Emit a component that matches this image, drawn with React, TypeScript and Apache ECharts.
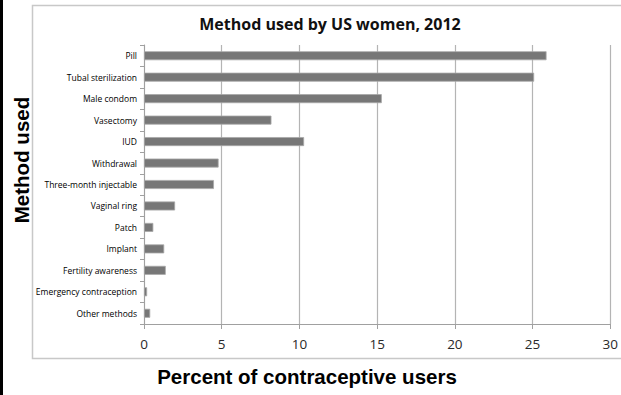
import React, { useEffect, useRef } from "react";
import * as echarts from "echarts";

const categories = [
  "Pill",
  "Tubal sterilization",
  "Male condom",
  "Vasectomy",
  "IUD",
  "Withdrawal",
  "Three-month injectable",
  "Vaginal ring",
  "Patch",
  "Implant",
  "Fertility awareness",
  "Emergency contraception",
  "Other methods",
];
const percents = [25.9, 25.1, 15.3, 8.2, 10.3, 4.8, 4.5, 2.0, 0.6, 1.3, 1.4, 0.2, 0.4];
const xTicks = { min: 0, max: 30, interval: 5 };
const titleText = "Method used by US women, 2012";
const yTitle = "Method used";
const xTitle = "Percent of contraceptive users";

export default function App() {
  const ref = useRef<HTMLDivElement>(null);
  useEffect(() => {
    if (!ref.current) return;
    const chart = echarts.init(ref.current, null, { renderer: "svg" });
    chart.setOption({
      animation: false,
      backgroundColor: "#ffffff",
      graphic: [
        {
          type: "rect",
          shape: { x: 32.5, y: 5.5, width: 600, height: 353 },
          style: { fill: "none", stroke: "#c8c8c8", lineWidth: 1.5 },
          silent: true,
        },
        {
          type: "rect",
          shape: { x: 0, y: 0, width: 3, height: 395 },
          style: { fill: "#000000" },
          silent: true,
        },
        {
          type: "text",
          x: 330,
          y: 24,
          style: {
            text: titleText,
            fontFamily: "Open Sans",
            fontWeight: "bold",
            fontSize: 16,
            fill: "#111111",
            textAlign: "center",
            textVerticalAlign: "middle",
          },
        },
        {
          type: "text",
          x: 21,
          y: 160,
          rotation: Math.PI / 2,
          style: {
            text: yTitle,
            fontFamily: "Liberation Sans",
            fontWeight: "bold",
            fontSize: 20.5,
            fill: "#000000",
            textAlign: "center",
            textVerticalAlign: "middle",
          },
        },
        {
          type: "text",
          x: 307,
          y: 376,
          style: {
            text: xTitle,
            fontFamily: "Liberation Sans",
            fontWeight: "bold",
            fontSize: 20.5,
            fill: "#000000",
            textAlign: "center",
            textVerticalAlign: "middle",
          },
        },
      ],
      grid: { left: 144, right: 10, top: 45, bottom: 71, containLabel: false },
      xAxis: {
        type: "value",
        min: xTicks.min,
        max: xTicks.max,
        interval: xTicks.interval,
        axisLine: { show: true, lineStyle: { color: "#a0a0a0", width: 1 } },
        axisTick: { show: true, length: 5, lineStyle: { color: "#a0a0a0" } },
        axisLabel: {
          fontFamily: "Open Sans",
          fontSize: 13.5,
          color: "#2a2a2a",
          margin: 13,
        },
        splitLine: { show: true, lineStyle: { color: "#b4b4b4", width: 1.2 } },
      },
      yAxis: {
        type: "category",
        data: categories,
        inverse: true,
        axisLine: { show: true, lineStyle: { color: "#a0a0a0", width: 1 } },
        axisTick: { show: true, length: 4, lineStyle: { color: "#a0a0a0" } },
        axisLabel: {
          fontFamily: "Open Sans",
          fontSize: 8.5,
          color: "#000000",
          margin: 7,
          interval: 0,
        },
      },
      series: [
        {
          type: "bar",
          data: percents,
          barWidth: 9,
          itemStyle: { color: "#777777", borderColor: "#a8a8a8", borderWidth: 0.8 },
        },
      ],
    });
    return () => chart.dispose();
  }, []);
  return (
    <div
      ref={ref}
      style={{ position: "fixed", left: 0, top: 0, width: 621, height: 395 }}
    />
  );
}
